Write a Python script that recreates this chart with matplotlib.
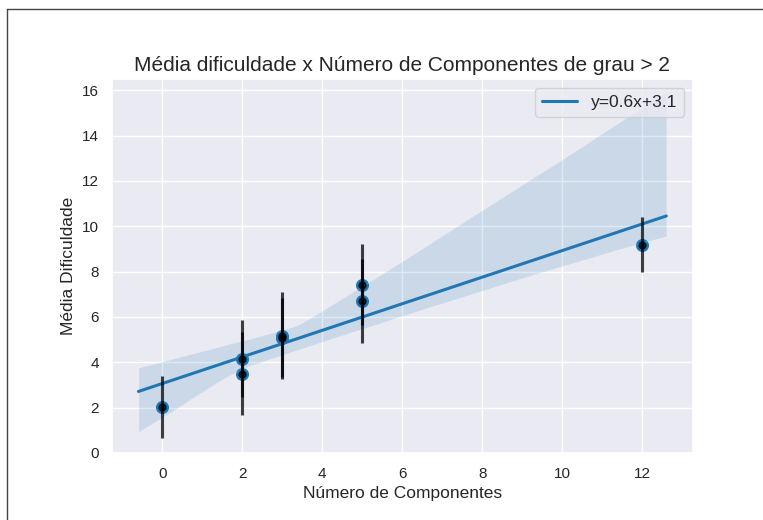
import numpy as np
import matplotlib
matplotlib.use("Agg")
import matplotlib.pyplot as plt
import seaborn as sns
from matplotlib.lines import Line2D

# Number of components of degree > 2 and mean difficulty (with std. dev.)
componentes = [0, 2, 2, 3, 3, 5, 5, 12]
media_dificuldade = [2.03, 4.16, 3.50, 5.18, 5.08, 7.43, 6.72, 9.19]
desvio = [1.37, 1.69, 1.84, 1.93, 1.75, 1.80, 1.85, 1.20]

x_ticks = [0, 2, 4, 6, 8, 10, 12]
y_ticks = [0, 2, 4, 6, 8, 10, 12, 14, 16]

sns.set_theme(style="darkgrid")
plt.rcParams["font.family"] = ["Liberation Sans", "DejaVu Sans"]

W, H = 763, 520
fig = plt.figure(figsize=(W / 100, H / 100), dpi=100)
ax = fig.add_axes([112 / W, (H - 453.4) / H, 580.7 / W, 374.4 / H])

slope, intercept = np.polyfit(componentes, media_dificuldade, 1)
rotulo = f"y={slope:.1f}x+{intercept:.1f}"

# regression line spans the padded data range
pad = 0.05 * (max(componentes) - min(componentes))
ax.set_xlim(min(componentes) - pad, max(componentes) + pad)

sns.regplot(
    x=np.array(componentes, dtype=float),
    y=np.array(media_dificuldade),
    ax=ax,
    seed=1,
    truncate=False,
    color="#1f77b4",
    scatter_kws={"s": 70, "alpha": 1.0},
    line_kws={"label": rotulo, "lw": 2.2},
)
ax.errorbar(
    componentes,
    media_dificuldade,
    yerr=desvio,
    fmt="o",
    color="black",
    ms=5,
    elinewidth=2.2,
    alpha=0.75,
)

ax.set_xlim(-1.26, 13.26)
ax.set_ylim(-0.02, 16.5)
ax.set_xticks(x_ticks)
ax.set_yticks(y_ticks)
ax.tick_params(labelsize=11)

ax.set_title("Média dificuldade x Número de Componentes de grau > 2", fontsize=15)
ax.set_xlabel("Número de Componentes", fontsize=12.5)
ax.set_ylabel("Média Dificuldade", fontsize=12.5)
ax.legend(loc="upper right", fontsize=12.5)

# frame around the output cell
bx, by = 6.5 / W, 1 - 9 / H
fig.add_artist(Line2D([bx, bx], [0, by], transform=fig.transFigure, color="#444444", lw=1))
fig.add_artist(Line2D([bx, 1], [by, by], transform=fig.transFigure, color="#444444", lw=1))

fig.savefig("out.png", dpi=100)
